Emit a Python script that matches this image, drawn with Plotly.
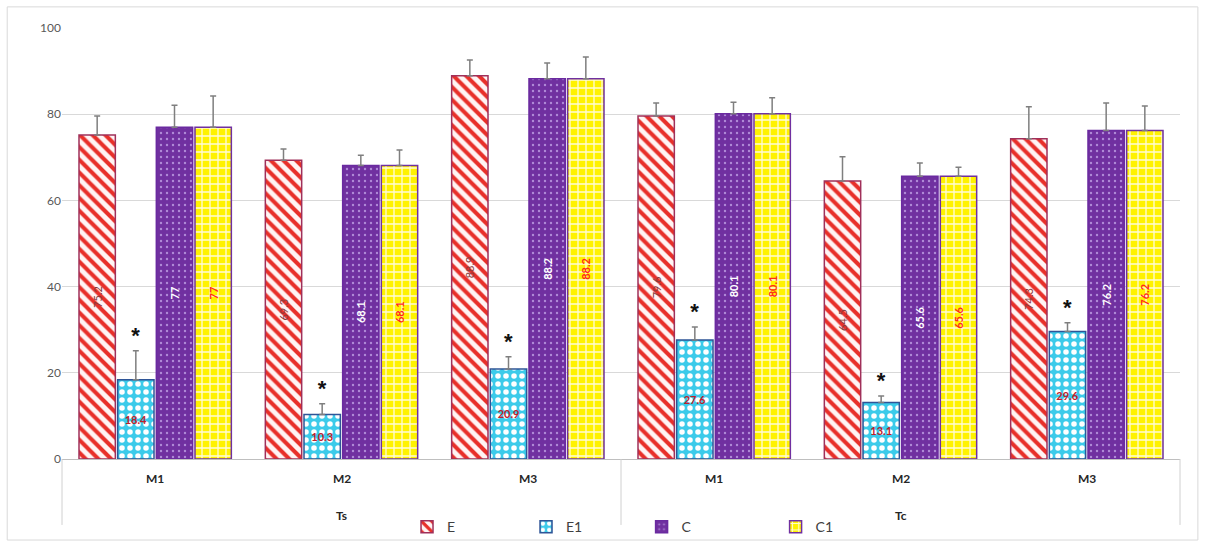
import plotly.graph_objects as go

groups = ["Ts", "Ts", "Ts", "Tc", "Tc", "Tc"]
methods = ["M1", "M2", "M3", "M1", "M2", "M3"]
outer_labels = ["Ts", "Tc"]

E = [75.2, 69.3, 88.9, 79.6, 64.5, 74.3]
E_err = [4.4, 2.6, 3.7, 3.0, 5.6, 7.4]
E1 = [18.4, 10.3, 20.9, 27.6, 13.1, 29.6]
E1_err = [6.7, 2.5, 2.8, 3.0, 1.5, 2.0]
C = [77, 68.1, 88.2, 80.1, 65.6, 76.2]
C_err = [5.1, 2.4, 3.7, 2.7, 3.1, 6.4]
C1 = [77, 68.1, 88.2, 80.1, 65.6, 76.2]
C1_err = [7.2, 3.6, 5.1, 3.7, 2.1, 5.7]
stars = ["*"] * 6

x = [groups, methods]
n = len(methods)
FONT = "Lato, 'Liberation Sans', sans-serif"

def err(a):
    return dict(type="data", symmetric=False, array=a, arrayminus=[0] * len(a),
                color="#7f7f7f", thickness=1.5, width=3)

fig = go.Figure()

fig.add_trace(go.Bar(
    name="E", x=x, y=E, offsetgroup="1", error_y=err(E_err), legend="legend",
    text=[str(v) for v in E], textposition="inside", textangle=-90,
    insidetextanchor="middle",
    textfont=dict(color="#8a3b3b", size=11, family=FONT),
    marker=dict(color="#fff0f0",
                line=dict(color="#a0305a", width=1.5),
                pattern=dict(shape="\\", fgcolor="#e8302a", bgcolor="#fff4f4",
                             size=9, solidity=0.45, fillmode="replace")),
))
fig.add_trace(go.Bar(
    name="E1", x=x, y=E1, offsetgroup="2", error_y=err(E1_err), legend="legend",
    text=[str(v) for v in E1], textposition="inside", textangle=0,
    insidetextanchor="middle",
    textfont=dict(color="#c0202a", size=11, family=FONT, weight="bold"),
    marker=dict(color="#3ccbea",
                line=dict(color="#2f5597", width=1.5),
                pattern=dict(shape=".", fgcolor="#ffffff", bgcolor="#3ccbea",
                             size=8, solidity=0.38, fillmode="replace")),
))
fig.add_trace(go.Bar(
    name="C", x=x, y=C, offsetgroup="3", error_y=err(C_err), legend="legend2",
    text=[str(v) for v in C], textposition="inside", textangle=-90,
    insidetextanchor="middle",
    textfont=dict(color="#ffffff", size=11, family=FONT, weight="bold"),
    marker=dict(color="#7030a0",
                line=dict(color="#6a2aa0", width=1.5),
                pattern=dict(shape=".", fgcolor="#b08ad8", bgcolor="#7030a0",
                             size=6, solidity=0.12, fillmode="replace")),
))
fig.add_trace(go.Bar(
    name="C1", x=x, y=C1, offsetgroup="4", error_y=err(C1_err), legend="legend2",
    text=[str(v) for v in C1], textposition="inside", textangle=-90,
    insidetextanchor="middle",
    textfont=dict(color="#ff2a1a", size=11, family=FONT, weight="bold"),
    marker=dict(color="#ffff00",
                line=dict(color="#7030a0", width=1.5),
                pattern=dict(shape="+", fgcolor="#fffcd8", bgcolor="#fff200",
                             size=8, solidity=0.3, fillmode="replace")),
))
# significance stars above E1 error bars
fig.add_trace(go.Bar(
    x=x, y=[v + e for v, e in zip(E1, E1_err)], offsetgroup="2",
    text=stars, textposition="outside", cliponaxis=False,
    textfont=dict(color="#111111", size=22, family="'Liberation Sans', Arial",
                  weight="bold"),
    marker=dict(color="rgba(0,0,0,0)", line=dict(width=0)),
    showlegend=False, hoverinfo="skip",
))

# category labels (inner and outer) and dividers
annotations = []
for i, m in enumerate(methods):
    annotations.append(dict(x=(i + 0.5) / n, y=-0.046, xref="paper", yref="paper",
                            xanchor="center", yanchor="middle",
                            text=m, showarrow=False,
                            font=dict(size=12, color="#262626", family=FONT, weight="bold")))
for k, g in enumerate(outer_labels):
    annotations.append(dict(x=(k + 0.5) / len(outer_labels), y=-0.13, xref="paper",
                            yref="paper", xanchor="center", yanchor="middle",
                            text=g, showarrow=False,
                            font=dict(size=12, color="#262626", family=FONT, weight="bold")))

shapes = [dict(type="rect", xref="paper", yref="paper",
               x0=-0.049, x1=1.016, y0=-0.188, y1=1.049,
               line=dict(color="#d9d9d9", width=1), fillcolor="rgba(0,0,0,0)",
               layer="below")]
for k in range(len(outer_labels) + 1):
    xp = k / len(outer_labels)
    shapes.append(dict(type="line", xref="paper", yref="paper", x0=xp, x1=xp,
                       y0=0, y1=-0.153, line=dict(color="#d0d0d0", width=1)))

fig.update_layout(
    width=1206, height=548,
    margin=dict(l=62, r=26, t=28, b=89, autoexpand=False),
    paper_bgcolor="white", plot_bgcolor="white",
    barmode="group", bargap=0.17, bargroupgap=0.06,
    font=dict(family=FONT, color="#404040", size=12),
    showlegend=True,
    legend=dict(orientation="h", xref="container", yref="container",
                x=0.3375, xanchor="left", y=0.038, yanchor="middle",
                bgcolor="rgba(0,0,0,0)", font=dict(size=14, color="#404040"),
                entrywidth=74, entrywidthmode="pixels"),
    legend2=dict(orientation="h", xref="container", yref="container",
                 x=0.532, xanchor="left", y=0.038, yanchor="middle",
                 bgcolor="rgba(0,0,0,0)", font=dict(size=14, color="#404040"),
                 entrywidth=89, entrywidthmode="pixels"),
    yaxis=dict(range=[0, 100], dtick=20, showgrid=True, gridcolor="#d9d9d9",
               gridwidth=1, zeroline=False, showline=False, ticks="",
               tickfont=dict(size=12, color="#595959")),
    xaxis=dict(type="multicategory", showline=True, linecolor="#bfbfbf",
               linewidth=1, showgrid=False, ticks="", showdividers=False,
               showticklabels=False),
    annotations=annotations,
    shapes=shapes,
)

fig.write_html("out.html")
